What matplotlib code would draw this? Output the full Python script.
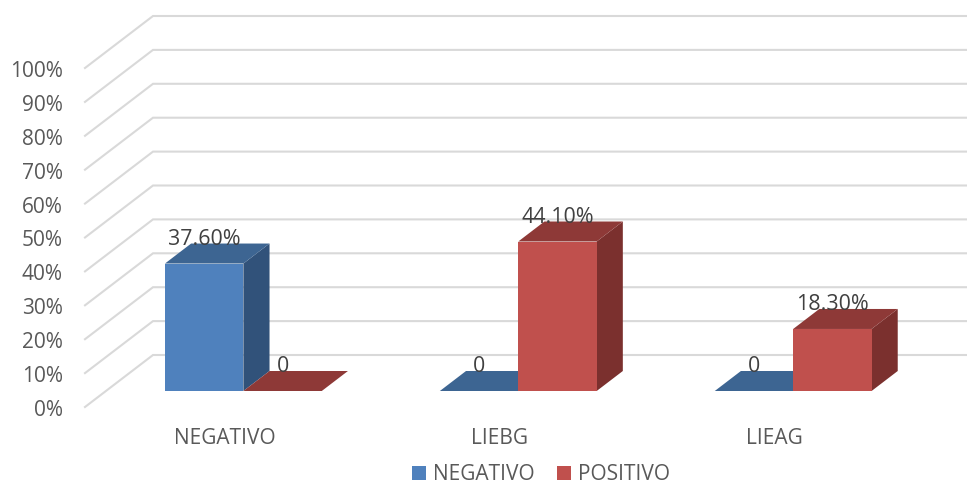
import matplotlib
matplotlib.use('Agg')
import matplotlib.pyplot as plt
from matplotlib.patches import Patch, Polygon
from matplotlib.ticker import PercentFormatter
from matplotlib.transforms import ScaledTranslation

plt.rcParams['font.family'] = ['Open Sans', 'DejaVu Sans']

categories = ['NEGATIVO', 'LIEBG', 'LIEAG']
series_names = ['NEGATIVO', 'POSITIVO']
negativo = [37.6, 0, 0]
positivo = [0, 44.1, 18.3]
y_ticks = [0, 10, 20, 30, 40, 50, 60, 70, 80, 90, 100]

W, H = 967, 484
# one category and one percent measured in pixels
CAT_PX = 274.9
PCT_PX = 3.39
LEFT_PX, BOTTOM_PX = 85, 407

# floor depth of the fake 3D box, pixels
DEPTH_X, DEPTH_Y = 68, 52
BAR_FRONT = 16 / 52
BAR_BACK = 36 / 52
BAR_W = 0.2852

BLUE = ('#4F81BD', '#3D6592', '#31527A')
RED = ('#C0504D', '#8E3937', '#7B302E')
GRID = '#D9D9D9'


def shift(x, v, depth):
    return x + depth * DEPTH_X / CAT_PX, v + depth * DEPTH_Y / PCT_PX


def draw_bar(ax, left, value, colors):
    right = left + BAR_W
    front, top, side = colors
    fl = shift(left, value, BAR_FRONT)
    fr = shift(right, value, BAR_FRONT)
    bl = shift(left, value, BAR_BACK)
    br = shift(right, value, BAR_BACK)
    fr0 = shift(right, 0, BAR_FRONT)
    fl0 = shift(left, 0, BAR_FRONT)
    br0 = shift(right, 0, BAR_BACK)
    ax.add_patch(Polygon([fr0, br0, br, fr], fc=side, ec='none', clip_on=False, zorder=3))
    ax.add_patch(Polygon([fl, bl, br, fr], fc=top, ec='none', clip_on=False, zorder=3))
    ax.add_patch(Polygon([fl0, fr0, fr, fl], fc=front, ec='none', clip_on=False, zorder=3))
    label = f'{value:.2f}%' if value else '0'
    tx, ty = shift(left + BAR_W / 2, value, BAR_FRONT)
    ax.annotate(label, (tx, ty), xytext=(0, 17.5), textcoords='offset points',
                ha='center', va='center', fontsize=15.4, color='#404040', zorder=5)


fig = plt.figure(figsize=(W / 100, H / 100), dpi=100)
ax = fig.add_axes([LEFT_PX / W, (H - BOTTOM_PX) / H,
                   (W - LEFT_PX) / W, 100 * PCT_PX / H])
ax.set_xlim(-0.5, -0.5 + (W - LEFT_PX) / CAT_PX)
ax.set_ylim(0, 100)

# side wall and back wall gridlines
for v in y_ticks:
    bx, by = shift(-0.5, v, 1)
    ax.plot([-0.5, bx, ax.get_xlim()[1]], [v, by, by], color=GRID, lw=1.5,
            clip_on=False, zorder=1, solid_joinstyle='miter')

for i in range(len(categories)):
    draw_bar(ax, i - BAR_W, negativo[i], BLUE)
    draw_bar(ax, i, positivo[i], RED)

for side in ax.spines.values():
    side.set_visible(False)
# labels sit a touch right of the category centre
ax.set_xticks([i + 2 / CAT_PX for i in range(len(categories))], categories)
ax.set_yticks(y_ticks)
ax.yaxis.set_major_formatter(PercentFormatter(100, decimals=0))
ax.tick_params(axis='both', length=0, labelsize=15, labelcolor='#595959')
ax.tick_params(axis='x', pad=15)
ax.tick_params(axis='y', pad=16)

# nudge the percent labels down a little
nudge = ScaledTranslation(0, -1 / 100, fig.dpi_scale_trans)
for tick_label in ax.get_yticklabels():
    tick_label.set_transform(tick_label.get_transform() + nudge)

handles = [Patch(fc=BLUE[0], label=series_names[0]), Patch(fc=RED[0], label=series_names[1])]
fig.legend(handles=handles, loc='center', bbox_to_anchor=(541 / W, (H - 475) / H),
           ncol=2, frameon=False, fontsize=15, labelcolor='#595959',
           handlelength=0.68, handleheight=0.68, handletextpad=0.3, columnspacing=1.1,
           borderpad=0, borderaxespad=0)

fig.savefig('out.png', dpi=100)
